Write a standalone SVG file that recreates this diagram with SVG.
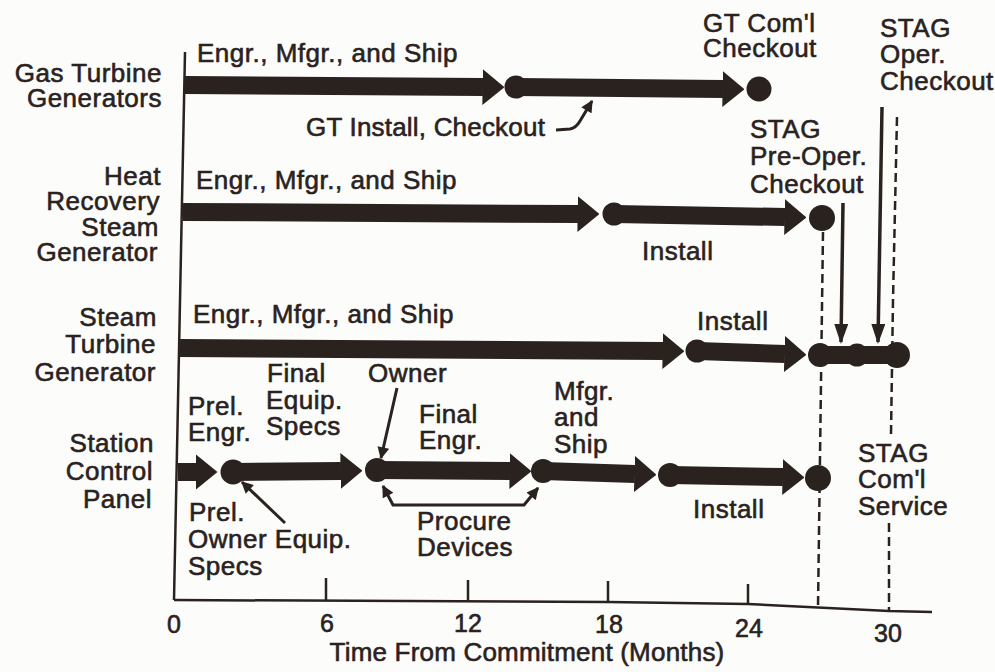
<svg xmlns="http://www.w3.org/2000/svg" width="995" height="672" viewBox="0 0 995 672">
<defs>
<style>
text{font-family:"Liberation Sans",Arial,Helvetica,sans-serif;font-size:26px;letter-spacing:0.5px;fill:#2a221e;stroke:#2a221e;stroke-width:0.6px}
.lbl{text-anchor:end}
.num{text-anchor:middle;font-size:25px;letter-spacing:0}
.bar{stroke:#2a221e;stroke-width:18;fill:none;marker-end:url(#big)}
.barn{stroke:#2a221e;stroke-width:18;fill:none}
.dot{fill:#2a221e}
.axis{stroke:#2a221e;stroke-width:2.5;fill:none}
.dash{stroke:#2a221e;stroke-width:2.5;fill:none;stroke-dasharray:9 5}
.ptr{stroke:#2a221e;stroke-width:3;fill:none;marker-end:url(#tip)}
.vline{stroke:#2a221e;stroke-width:3.5;fill:none;marker-end:url(#down)}
</style>
<marker id="big" markerUnits="userSpaceOnUse" viewBox="0 0 22 36" markerWidth="22" markerHeight="36" refX="0.5" refY="18" orient="auto"><path d="M0,0 L22,18 L0,36 Z" fill="#2a221e"/></marker>
<marker id="tip" markerUnits="userSpaceOnUse" viewBox="0 0 10 10" markerWidth="13" markerHeight="12" refX="9" refY="5" orient="auto-start-reverse"><path d="M0,0 L10,5 L0,10 Z" fill="#2a221e"/></marker>
<marker id="down" markerUnits="userSpaceOnUse" viewBox="0 0 20 14" markerWidth="20" markerHeight="14" refX="18" refY="7" orient="auto"><path d="M0,0 L20,7 L0,14 Z" fill="#2a221e"/></marker>
</defs>
<rect width="995" height="672" fill="#fcfcfa"/>

<g id="axes">
<path class="axis" d="M185,52 L174,600"/>
<path class="axis" d="M174,600 L608,602 L748,604 L889,611 L932,612"/>
<path class="axis" d="M326,578 V601 M468,580 V601 M608,581 V602 M748,584 V604"/>
<text class="num" x="174" y="633">0</text>
<text class="num" x="327" y="632">6</text>
<text class="num" x="468" y="632">12</text>
<text class="num" x="609" y="633">18</text>
<text class="num" x="749" y="637">24</text>
<text class="num" x="888" y="642">30</text>
<text x="527" y="661" style="text-anchor:middle;letter-spacing:0.2px">Time From Commitment (Months)</text>
</g>

<g id="row-gas-turbine">
<text class="lbl" x="162" y="82">Gas Turbine</text>
<text class="lbl" x="162" y="107">Generators</text>
<path class="bar" d="M185,85 L483,87"/>
<circle class="dot" cx="516" cy="87" r="11.5"/>
<path class="bar" d="M516,87 L723,89"/>
<circle class="dot" cx="759" cy="89" r="12.5"/>
<text x="197" y="62">Engr., Mfgr., and Ship</text>
<text x="306" y="136" style="letter-spacing:0.2px">GT Install, Checkout</text>
<text x="703" y="32">GT Com'l</text>
<text x="703" y="57">Checkout</text>
</g>

<g id="row-hrsg">
<text class="lbl" x="161" y="185">Heat</text>
<text class="lbl" x="160" y="210">Recovery</text>
<text class="lbl" x="159" y="236">Steam</text>
<text class="lbl" x="158" y="261">Generator</text>
<path class="bar" d="M183,212 L578,214"/>
<circle class="dot" cx="614" cy="214" r="11.5"/>
<path class="bar" d="M614,214 L785,217"/>
<circle class="dot" cx="822" cy="218" r="13"/>
<text x="196" y="189">Engr., Mfgr., and Ship</text>
<text x="642" y="260">Install</text>
<text x="750" y="138">STAG</text>
<text x="750" y="165">Pre-Oper.</text>
<text x="750" y="193">Checkout</text>
</g>

<g id="row-steam-turbine">
<text class="lbl" x="157" y="326">Steam</text>
<text class="lbl" x="156" y="353">Turbine</text>
<text class="lbl" x="156" y="381">Generator</text>
<path class="bar" d="M180,348 L663,351"/>
<circle class="dot" cx="697" cy="351" r="11.5"/>
<path class="bar" d="M697,351 L785,354"/>
<path class="barn" d="M820,355 L897,355"/>
<circle class="dot" cx="820" cy="355" r="12"/>
<circle class="dot" cx="857" cy="355" r="11.5"/>
<circle class="dot" cx="897" cy="355" r="13"/>
<text x="193" y="323">Engr., Mfgr., and Ship</text>
<text x="697" y="330">Install</text>
<text x="880" y="37">STAG</text>
<text x="880" y="63">Oper.</text>
<text x="880" y="90">Checkout</text>
</g>

<g id="row-station-control">
<text class="lbl" x="154" y="452">Station</text>
<text class="lbl" x="153" y="480">Control</text>
<text class="lbl" x="152" y="508">Panel</text>
<path class="bar" d="M178,472 L196,472"/>
<circle class="dot" cx="233" cy="472" r="12.5"/>
<path class="bar" d="M233,472 L341,471"/>
<circle class="dot" cx="377" cy="470" r="12"/>
<path class="bar" d="M377,470 L510,471"/>
<circle class="dot" cx="543" cy="471" r="12"/>
<path class="bar" d="M543,471 L635,474"/>
<circle class="dot" cx="670" cy="475" r="12"/>
<path class="bar" d="M670,475 L783,477"/>
<circle class="dot" cx="818" cy="478" r="13"/>
<text x="188" y="415">Prel.</text>
<text x="188" y="441">Engr.</text>
<text x="267" y="382">Final</text>
<text x="266" y="409">Equip.</text>
<text x="266" y="435">Specs</text>
<text x="368" y="382">Owner</text>
<text x="419" y="423">Final</text>
<text x="419" y="449">Engr.</text>
<text x="554" y="400">Mfgr.</text>
<text x="554" y="426">and</text>
<text x="554" y="453">Ship</text>
<text x="189" y="521">Prel.</text>
<text x="188" y="548">Owner Equip.</text>
<text x="188" y="575">Specs</text>
<text x="417" y="530">Procure</text>
<text x="417" y="556">Devices</text>
<text x="693" y="518">Install</text>
<text x="858" y="462">STAG</text>
<text x="858" y="488">Com'l</text>
<text x="858" y="515">Service</text>
</g>

<g id="connectors">
<path class="ptr" d="M556,130 L570,129 Q576,128 580,121 L592,101"/>
<path class="ptr" d="M397,388 L381,458"/>
<path class="ptr" d="M285,523 L242,482"/>
<path class="ptr" style="marker-start:url(#tip)" d="M383,486 L393,505 L524,505 L538,488"/>
<path class="vline" d="M843,203 L841,342"/>
<path class="vline" d="M882,107 L878,342"/>
<path class="dash" d="M823,232 L818,607"/>
<path class="dash" d="M897,117 L893,300 L891,434"/>
<path class="dash" d="M889,523 L889,611"/>
</g>
</svg>
